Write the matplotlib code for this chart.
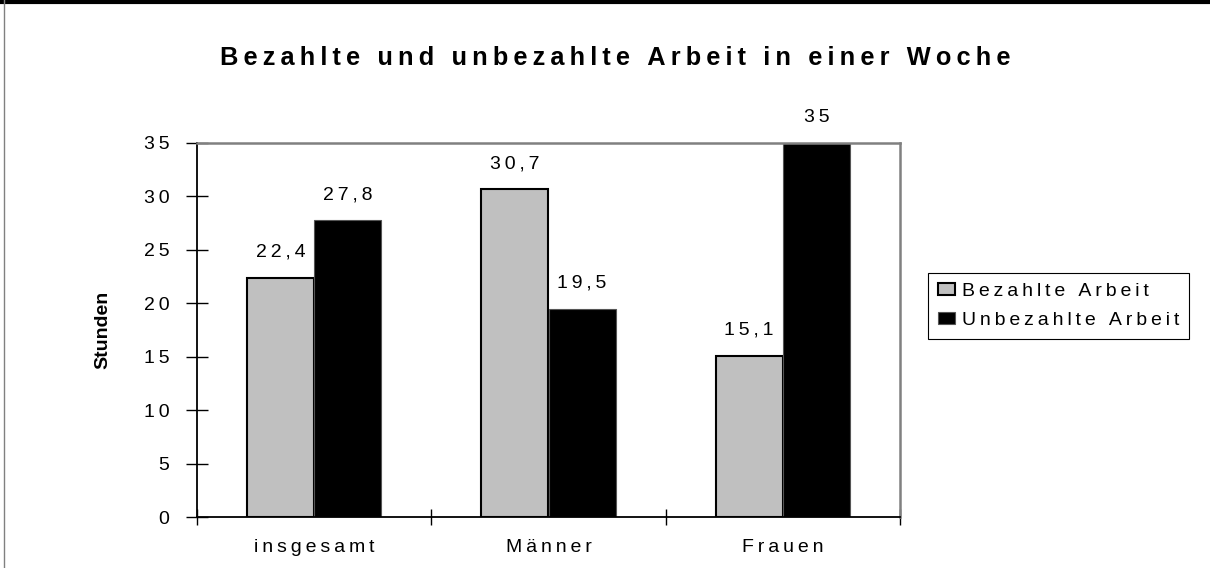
import numpy as np
import matplotlib.pyplot as plt
from matplotlib.lines import Line2D

plt.rcParams['font.family'] = ['Liberation Sans', 'DejaVu Sans']

categories = ['insgesamt', 'Männer', 'Frauen']
bezahlt = [22.4, 30.7, 15.1]
unbezahlt = [27.8, 19.5, 35]
series_names = ['Bezahlte Arbeit', 'Unbezahlte Arbeit']
title = 'Bezahlte und unbezahlte Arbeit in einer Woche'
ylabel = 'Stunden'

FS = 14


def spaced(s, sep='\u2009'):
    # old Excel look: letters drawn with extra tracking
    return sep.join(s)


def de_num(v):
    return ('%g' % v).replace('.', ',')


fig = plt.figure(figsize=(12.1, 5.68), dpi=100)
ax = fig.add_axes([197 / 1210, 51 / 568, 703 / 1210, 374 / 568])

x = np.arange(len(categories))
w = 0.287
b1 = ax.bar(x - w / 2, bezahlt, w, color='#c0c0c0', edgecolor='black', linewidth=1.5,
            label=spaced(series_names[0]))
b2 = ax.bar(x + w / 2, unbezahlt, w, color='black', edgecolor='#555555', linewidth=0.8,
            label=spaced(series_names[1]))

for bars, vals in [(b1, bezahlt), (b2, unbezahlt)]:
    for r, v in zip(bars, vals):
        ax.annotate(spaced(de_num(v)), (r.get_x() + r.get_width() / 2, v),
                    xytext=(0, 12), textcoords='offset points',
                    ha='center', va='bottom', fontsize=FS)

ax.set_xlim(-0.5, 2.5)
ax.set_ylim(0, 35)
ax.set_yticks(np.arange(0, 36, 5))
ax.set_yticklabels([spaced(str(t)) for t in range(0, 36, 5)])
ax.set_xticks([-0.5, 0.5, 1.5, 2.5])
ax.set_xticklabels([])
ax.set_xticks(x, minor=True)
ax.set_xticklabels([spaced(c) for c in categories], minor=True)
ax.tick_params(axis='y', direction='inout', length=16, width=1, pad=12, labelsize=FS)
ax.tick_params(axis='x', which='major', direction='inout', length=12, width=1)
ax.tick_params(axis='x', which='minor', length=0, pad=16, labelsize=FS)

for s in ['left', 'bottom']:
    ax.spines[s].set_color('black')
    ax.spines[s].set_linewidth(1.3)
for s in ['top', 'right']:
    ax.spines[s].set_color('#808080')
    ax.spines[s].set_linewidth(1.8)

fig.text(103 / 1210, 1 - 330 / 568, ylabel, rotation=90, fontsize=14, fontweight='bold',
         ha='center', va='center')
fig.text(615 / 1210, 1 - 58 / 568, spaced(title, '\u2009'), fontsize=18.3,
         fontweight='bold', ha='center', va='center')

leg = fig.legend(loc='center left', bbox_to_anchor=(928 / 1210, 1 - 306 / 568),
                 fontsize=FS, frameon=True, fancybox=False, framealpha=1,
                 edgecolor='black', handlelength=0.9, handleheight=0.6,
                 handletextpad=0.35, borderpad=0.5, labelspacing=0.6, borderaxespad=0)
leg.get_frame().set_linewidth(0.8)

fig.add_artist(Line2D([0, 1], [1 - 2 / 568, 1 - 2 / 568], color='black', linewidth=3,
                      transform=fig.transFigure))
fig.add_artist(Line2D([4 / 1210, 4 / 1210], [0, 1], color='#808080', linewidth=1,
                      transform=fig.transFigure))

fig.savefig('out.png', dpi=100)
